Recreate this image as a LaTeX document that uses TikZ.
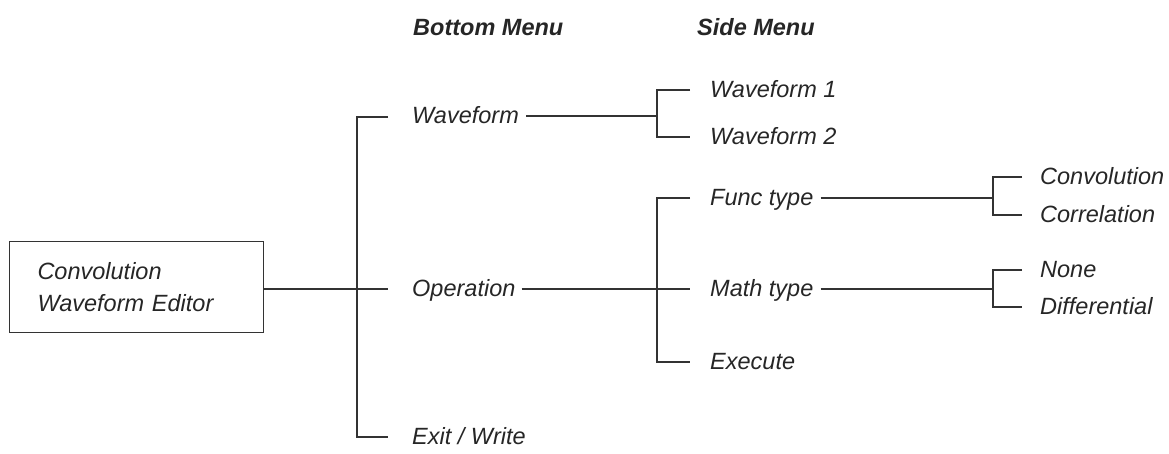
\documentclass[tikz,border=0pt]{standalone}
\usepackage{fontspec}
\setmainfont{Liberation Sans}
\begin{document}
\begin{tikzpicture}[x=1pt,y=-1pt,
  conn/.style={line width=1.05pt, draw=black!80},
  lbl/.style={anchor=base west, inner sep=0pt, font=\fontsize{23.5}{32}\selectfont\itshape, text=black!85},
  hdr/.style={anchor=base west, inner sep=0pt, font=\fontsize{23.5}{32}\selectfont\bfseries\itshape, text=black!85}]
\useasboundingbox (0,0) rectangle (1169,453);
% headers
\node[hdr] (hb) at (413,35) {Bottom Menu};
\node[hdr] (hs) at (697,35) {Side Menu};
% root box
\node[draw=black!80, line width=1.05pt, anchor=north west, minimum height=91pt,
      text width=198pt, inner xsep=28pt, align=left, text=black!85,
      font=\fontsize{23.5}{32}\selectfont\itshape] (box) at (9,241) {Convolution\\Waveform Editor};
% level 1 trunk coordinates
\coordinate (a1) at (388,117); \coordinate (a1t) at (357,117);
\coordinate (a2) at (388,289); \coordinate (a2t) at (357,289);
\coordinate (a3) at (388,437); \coordinate (a3t) at (357,437);
\draw[conn] (a1) -- (a1t) -- (a3t) -- (a3);
\draw[conn] (box.east |- a2) -- (a2);
% level 1 labels
\node[lbl] (wave) at (412,123) {Waveform};
\node[lbl] (oper) at (412,296) {Operation};
\node[lbl] (exit) at (412,444) {Exit / Write};
% waveform subtree
\coordinate (b0) at (657,116);
\coordinate (b1) at (690,90); \coordinate (b1t) at (657,90);
\coordinate (b2) at (690,137); \coordinate (b2t) at (657,137);
\draw[conn] ([xshift=7pt]wave.east |- b0) -- (b0);
\draw[conn] (b1) -- (b1t) -- (b2t) -- (b2);
\node[lbl] (w1) at (710,97) {Waveform 1};
\node[lbl] (w2) at (710,144) {Waveform 2};
% operation subtree
\coordinate (c1) at (690,198); \coordinate (c1t) at (657,198);
\coordinate (c2) at (690,289);
\coordinate (c3) at (690,362); \coordinate (c3t) at (657,362);
\draw[conn] ([xshift=6pt]oper.east |- c2) -- (c2);
\draw[conn] (c1) -- (c1t) -- (c3t) -- (c3);
\node[lbl] (func) at (710,205) {Func type};
\node[lbl] (math) at (710,296) {Math type};
\node[lbl] (exec) at (710,369) {Execute};
% func type subtree
\coordinate (d0) at (993,198);
\coordinate (d1) at (1022,177); \coordinate (d1t) at (993,177);
\coordinate (d2) at (1022,215); \coordinate (d2t) at (993,215);
\draw[conn] ([xshift=7pt]func.east |- d0) -- (d0);
\draw[conn] (d1) -- (d1t) -- (d2t) -- (d2);
\node[lbl] (conv) at (1040,184) {Convolution};
\node[lbl] (corr) at (1040,222) {Correlation};
% math type subtree
\coordinate (e0) at (993,289);
\coordinate (e1) at (1022,270); \coordinate (e1t) at (993,270);
\coordinate (e2) at (1022,307); \coordinate (e2t) at (993,307);
\draw[conn] ([xshift=7pt]math.east |- e0) -- (e0);
\draw[conn] (e1) -- (e1t) -- (e2t) -- (e2);
\node[lbl] (none) at (1040,277) {None};
\node[lbl] (diff) at (1040,314) {Differential};
\end{tikzpicture}
\end{document}
